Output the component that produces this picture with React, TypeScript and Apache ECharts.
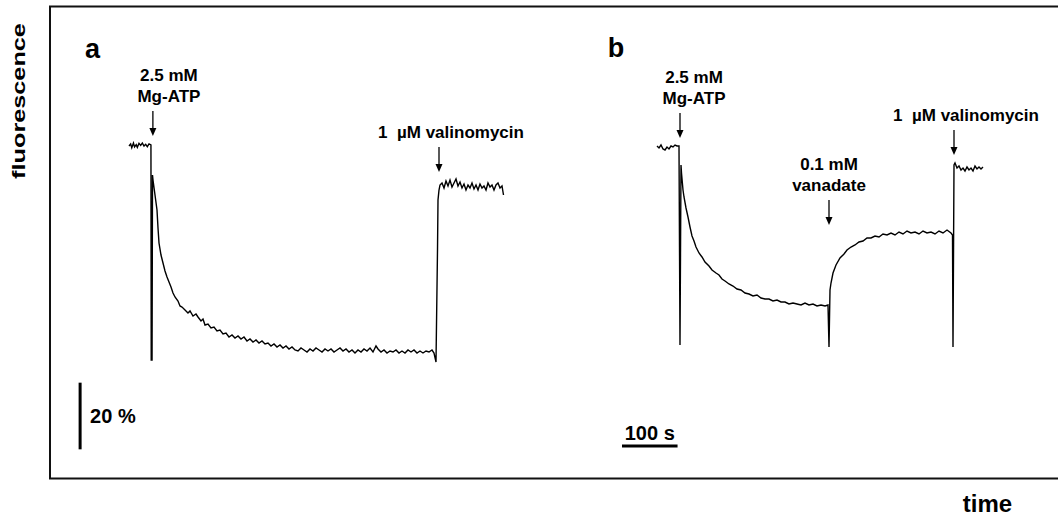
import React, { useEffect, useRef } from "react";
import * as echarts from "echarts";

// ---- data (time in s, fluorescence in % of initial level) ----
const traceA: [number, number][] = [
  [0, 100.0], [3, 100.6], [5, 99.5], [8, 100.9], [10, 99.7], [13, 100.4], [15, 99.6], [18, 100.8], [21, 100.2], [24, 100.9],
  [27, 100.0], [30, 100.5], [33, 99.8], [36, 100.6], [39.5, 100.3],
  [40, 35.8], [41.5, 35.8], [42.3, 91.3], [43.2, 89.8], [46.8, 85.3], [50.4, 80.8], [52.2, 75.4], [54, 70.9], [57.6, 67.3],
  [61.2, 64.9], [64.8, 62.5], [68.4, 60.7], [72, 59.2], [75.6, 57.7], [79.2, 55.9], [82.8, 54.7], [88.2, 53.5], [91.8, 52],
  [95.4, 51.7], [100.8, 50.8], [106.2, 49.9], [109.8, 50.5], [115.2, 49], [120.6, 49.6], [124.2, 48.7], [129.6, 47.5],
  [133.2, 48.1], [136.8, 46.3], [142.2, 46.6], [147.6, 45.4], [153, 45.7], [158.4, 44.5], [163.8, 44.8], [169.2, 43.6],
  [174.6, 43.9], [180, 42.7], [185.4, 43.3], [190.8, 42.4], [196.2, 43], [201.6, 42.1], [207, 42.7], [212.4, 41.5],
  [217.8, 42.1], [223.2, 41.2], [228.6, 41.8], [234, 40.9], [239.4, 41.5], [244.8, 40.6], [250.2, 40.9], [255.6, 40],
  [261, 40.6], [266.4, 39.7], [271.8, 40.3], [277.2, 39.4], [282.6, 40], [288, 39.1], [293.4, 39.7], [298.8, 38.8],
  [304.2, 38.5], [309.6, 39.4], [315, 38.8], [320.4, 38.2], [325.8, 39.1], [331.2, 38.5], [336.6, 39.4], [342, 38.8],
  [347.4, 38.2], [352.8, 39.1], [358.2, 38.5], [363.6, 39.1], [369, 38.2], [374.4, 38.8], [379.8, 39.4], [385.2, 38.5],
  [390.6, 39.1], [396, 38.2], [401.4, 38.8], [406.8, 37.9], [412.2, 38.8], [417.6, 38.2], [423, 39.1], [428.4, 38.5],
  [433.8, 39.4], [439.2, 38.2], [444.6, 40.0], [448.2, 39.1], [453.6, 38.2], [459, 38.8], [464.4, 37.9], [469.8, 38.5],
  [475.2, 38.2], [480.6, 38.8], [486, 37.9], [491.4, 38.5], [496.8, 37.9], [502.2, 38.8], [507.6, 38.2], [513, 38.8],
  [518.4, 37.9], [523.8, 38.5], [529.2, 37.9], [534.6, 38.5], [540, 38.2], [545.4, 38.8], [549, 37.9],
  [552.6, 35.2], [555.3, 68.8], [556.2, 83.8], [558, 86.8], [559.8, 88.3],
  [563.4, 88.9], [567, 87.4], [570.6, 89.5], [574.2, 88], [577.8, 89.8], [581.4, 87.7], [585, 88.9], [588.6, 90.1],
  [592.2, 88], [595.8, 89.2], [599.4, 87.4], [603, 88.6], [606.6, 86.8], [610.2, 88.3], [613.8, 87.4], [617.4, 88.9],
  [621, 87.1], [624.6, 88.3], [628.2, 86.8], [631.8, 88.6], [635.4, 87.4], [639, 88], [642.6, 86.8], [646.2, 88.9],
  [649.8, 87.7], [653.4, 88.3], [657, 86.8], [660.6, 88.3], [664.2, 88.9], [667.8, 87.4], [671.4, 88], [674.1, 85.3],
];

const traceB: [number, number][] = [
  [0, 100], [3.6, 99.4], [7.2, 100.3], [10.8, 99.1], [14.4, 98.8], [18, 99.7], [21.6, 99.1], [25.2, 100], [28.8, 99.7],
  [32.4, 100.3], [36, 100], [39.6, 100],
  [41.4, 40.3], [42.3, 40.3], [43.2, 94.3], [44.1, 91.9], [46.8, 86.8], [48.6, 84.7], [52.2, 81.4], [55.8, 78.7],
  [59.4, 75.7], [63, 73], [66.6, 71.5], [70.2, 69.7], [75.6, 67.9], [81, 66.7], [86.4, 65.2], [93.6, 64], [99, 62.8],
  [106.2, 61.9], [111.6, 61.3], [117, 60.1], [122.4, 59.5], [129.6, 58.6], [136.8, 58], [144, 57.1], [151.2, 56.8],
  [158.4, 55.9], [165.6, 55.6], [172.8, 55], [180, 55.3], [187.2, 54.4], [194.4, 54.1], [201.6, 54.1], [208.8, 53.5],
  [216, 53.8], [223.2, 53.2], [230.4, 53.2], [237.6, 52.6], [244.8, 52.9], [252, 52.6], [259.2, 52.3], [266.4, 52.9],
  [273.6, 52.3], [280.8, 52.6], [288, 52], [295.2, 52.3], [302.4, 52], [307.8, 52.3],
  [309.6, 39.7], [310.5, 39.7], [311.4, 56.8], [313.2, 58.9], [316.8, 61.9], [322.2, 64.3], [329.4, 66.4], [336.6, 67.6],
  [342, 68.8], [349.2, 69.7], [356.4, 70.3], [363.6, 71.2], [370.8, 71.5], [378, 72.4], [385.2, 72.4], [392.4, 73],
  [399.6, 72.7], [406.8, 73.6], [414, 73.3], [421.2, 73.9], [428.4, 73.3], [435.6, 74.2], [442.8, 73.6], [450, 74.5],
  [457.2, 73.9], [464.4, 74.2], [471.6, 73.6], [478.8, 74.5], [486, 73.9], [493.2, 74.2], [500.4, 73.6], [507.6, 74.5],
  [514.8, 73.9], [522, 74.8], [529.2, 73.9], [531.9, 73.3],
  [532.8, 39.7], [533.7, 39.7], [534.6, 94.3], [536.4, 94.9],
  [540, 93.4], [543.6, 94], [547.2, 92.8], [550.8, 93.4], [554.4, 92.5], [558, 93.7], [561.6, 92.8], [565.2, 93.4],
  [568.8, 92.5], [572.4, 94], [576, 93.1], [579.6, 93.7], [583.2, 93.1], [586.8, 93.7],
];

// scale bars: 20 % (vertical, panel a) and 100 s (horizontal, panel b)
const scaleBarPct: [number, number][] = [[-88, 9], [-88, 29]];
const scaleBarTime: [number, number][] = [[-63, 10], [37, 10]];

// additions (arrows)
const eventPanel = [0, 0, 1, 1, 1];
const eventTime = [43, 558, 41.4, 309.6, 534.6];
const eventTip = [103, 92.2, 102.4, 76.3, 97.3];
const eventLabel = [
  ["2.5 mM", "Mg-ATP"],
  ["1  \u00b5M valinomycin"],
  ["2.5 mM", "Mg-ATP"],
  ["0.1 mM", "vanadate"],
  ["1  \u00b5M valinomycin"],
];
const eventLabelDx = [16, 12, 14, 0, 12];

// ---- layout ----
const S_PER_PX = 1.8;
const PCT_PER_PX = 0.3;
const Y_MIN = 0, Y_MAX = 130;
const BASE_PX = 146; // pixel row of 100 %
const X_MIN = -140;
const ORIGIN_A = 129, ORIGIN_B = 657;
const FONT = "'Liberation Sans', Arial, Helvetica, sans-serif";

export default function App() {
  const ref = useRef<HTMLDivElement>(null);
  useEffect(() => {
    if (!ref.current) return;
    const chart = echarts.init(ref.current, undefined, { renderer: "svg" });
    const gridTop = BASE_PX - (Y_MAX - 100) / PCT_PER_PX;
    const gridH = (Y_MAX - Y_MIN) / PCT_PER_PX;
    const leftA = ORIGIN_A + X_MIN / S_PER_PX;
    const leftB = ORIGIN_B + X_MIN / S_PER_PX;
    const maxA = 760, maxB = 710;
    const line = (data: [number, number][], idx: number, w = 1.4) => ({
      type: "line",
      data,
      xAxisIndex: idx,
      yAxisIndex: idx,
      showSymbol: false,
      symbol: "none",
      clip: false,
      lineStyle: { color: "#000", width: w, cap: "butt", join: "miter" },
      z: 3,
    });
    chart.setOption({
      animation: false,
      backgroundColor: "#fff",
      grid: [
        { left: leftA, top: gridTop, width: (maxA - X_MIN) / S_PER_PX, height: gridH },
        { left: leftB, top: gridTop, width: (maxB - X_MIN) / S_PER_PX, height: gridH },
      ],
      xAxis: [
        { type: "value", gridIndex: 0, min: X_MIN, max: maxA, show: false },
        { type: "value", gridIndex: 1, min: X_MIN, max: maxB, show: false },
      ],
      yAxis: [
        { type: "value", gridIndex: 0, min: Y_MIN, max: Y_MAX, show: false },
        { type: "value", gridIndex: 1, min: Y_MIN, max: Y_MAX, show: false },
      ],
      series: [
        line(traceA, 0),
        line(traceB, 1),
        line(scaleBarPct, 0, 3),
        line(scaleBarTime, 1, 3),
      ],
    });

    const px = (g: number, p: [number, number]) => chart.convertToPixel({ gridIndex: g }, p) as number[];
    const graphics: any[] = [];
    // frame
    graphics.push({
      type: "polyline",
      shape: { points: [[1070, 6.5], [50, 6.5], [50, 478.5], [1070, 478.5]] },
      style: { stroke: "#111", lineWidth: 2, fill: null },
      silent: true,
    });
    const txt = (text: string, x: number, y: number, size: number, extra: any = {}, align = "center") => ({
      type: "text",
      x,
      y,
      style: {
        text,
        fill: "#000",
        font: `bold ${size}px ${FONT}`,
        align,
        verticalAlign: "middle",
      },
      ...extra,
    });
    graphics.push(txt("fluorescence", 18.5, 101, 19, { rotation: Math.PI / 2, scaleX: 1.33 }));
    graphics.push(txt("time", 987.5, 503, 24));
    graphics.push(txt("a", 92.5, 49, 27));
    graphics.push(txt("b", 616, 48, 27));

    // arrows + labels
    for (let i = 0; i < eventTime.length; i++) {
      const [x, yTip] = px(eventPanel[i], [eventTime[i], eventTip[i]]);
      const yTop = yTip - 25;
      graphics.push({
        type: "line",
        shape: { x1: x, y1: yTop, x2: x, y2: yTip - 6 },
        style: { stroke: "#000", lineWidth: 1.3 },
      });
      graphics.push({
        type: "polygon",
        shape: { points: [[x - 3.5, yTip - 8], [x + 3.5, yTip - 8], [x, yTip]] },
        style: { fill: "#000" },
      });
      const lines = eventLabel[i];
      for (let k = 0; k < lines.length; k++) {
        const yy = yTop - 15 - (lines.length - 1 - k) * 21;
        graphics.push(txt(lines[k], x + eventLabelDx[i], yy, 17));
      }
    }

    // scale bar labels
    const [sx, sy] = px(0, [scaleBarPct[0][0], (scaleBarPct[0][1] + scaleBarPct[1][1]) / 2]);
    graphics.push(txt("20 %", sx + 10, sy, 20, {}, "left"));
    const [tx, ty] = px(1, [(scaleBarTime[0][0] + scaleBarTime[1][0]) / 2, scaleBarTime[0][1]]);
    graphics.push(txt("100 s", tx, ty - 13, 20));

    chart.setOption({ graphic: graphics });
    return () => chart.dispose();
  }, []);
  return (
    <div
      ref={ref}
      style={{ position: "fixed", left: 0, top: 0, width: 1058, height: 517, background: "#fff" }}
    />
  );
}
